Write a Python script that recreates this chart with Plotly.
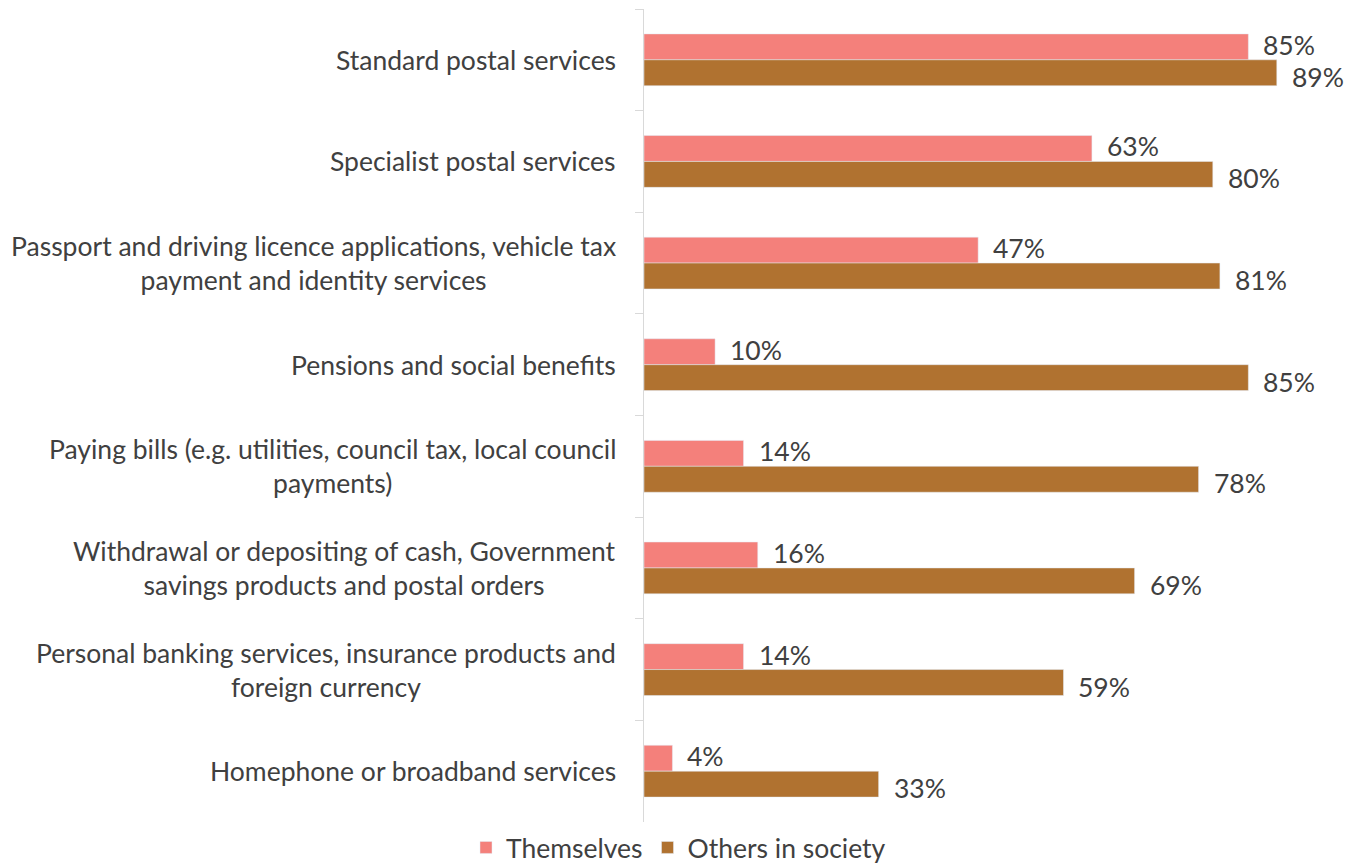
import plotly.graph_objects as go

categories = [
    "Standard postal services",
    "Specialist postal services",
    "Passport and driving licence applications, vehicle tax<br>payment and identity services",
    "Pensions and social benefits",
    "Paying bills (e.g. utilities, council tax, local council<br>payments)",
    "Withdrawal or depositing of cash, Government<br>savings products and postal orders",
    "Personal banking services, insurance products and<br>foreign currency",
    "Homephone or broadband services",
]
themselves = [85, 63, 47, 10, 14, 16, 14, 4]
others_in_society = [89, 80, 81, 85, 78, 69, 59, 33]

FONT = "Lato"
TEXT = "#404040"
SIZE = 26.5

fig = go.Figure()
fig.add_trace(go.Bar(
    y=categories, x=themselves, orientation="h", name="Themselves",
    marker=dict(color="#F4807B"),
))
fig.add_trace(go.Bar(
    y=categories, x=others_in_society, orientation="h", name="Others in society",
    marker=dict(color="#B07230"),
))

# Value labels just past the end of each bar
for c, v in zip(categories, themselves):
    fig.add_annotation(x=v, y=c, text=f"{v}%", showarrow=False, xanchor="left",
                       yanchor="middle", xshift=13, yshift=15,
                       font=dict(family=FONT, size=SIZE, color=TEXT))
for c, v in zip(categories, others_in_society):
    fig.add_annotation(x=v, y=c, text=f"{v}%", showarrow=False, xanchor="left",
                       yanchor="middle", xshift=13, yshift=-17,
                       font=dict(family=FONT, size=SIZE, color=TEXT))

# Category labels as annotations so wrapped lines are centred
for c in categories:
    fig.add_annotation(
        x=0, xref="paper", y=c, yref="y", text=c, showarrow=False,
        xanchor="right", yanchor="middle", align="center", xshift=-26,
        font=dict(family=FONT, size=SIZE, color=TEXT),
    )

fig.update_layout(
    width=1357, height=865,
    margin=dict(l=644, r=2, t=9, b=43),
    paper_bgcolor="white", plot_bgcolor="white",
    barmode="group", bargap=0.49, bargroupgap=0,
    showlegend=True,
    legend=dict(
        orientation="h", xref="container", yref="container",
        x=0.5, xanchor="center", y=0.02, yanchor="middle",
        font=dict(family=FONT, size=SIZE, color=TEXT),
        itemwidth=30, traceorder="normal",
    ),
    xaxis=dict(range=[0, 100], visible=False),
    yaxis=dict(
        autorange="reversed", showticklabels=False,
        showline=True, linecolor="#D9D9D9", linewidth=1,
        ticks="outside", tickson="boundaries", ticklen=8, tickcolor="#D9D9D9",
        showgrid=False, zeroline=False,
    ),
)

fig.write_html("out.html")
